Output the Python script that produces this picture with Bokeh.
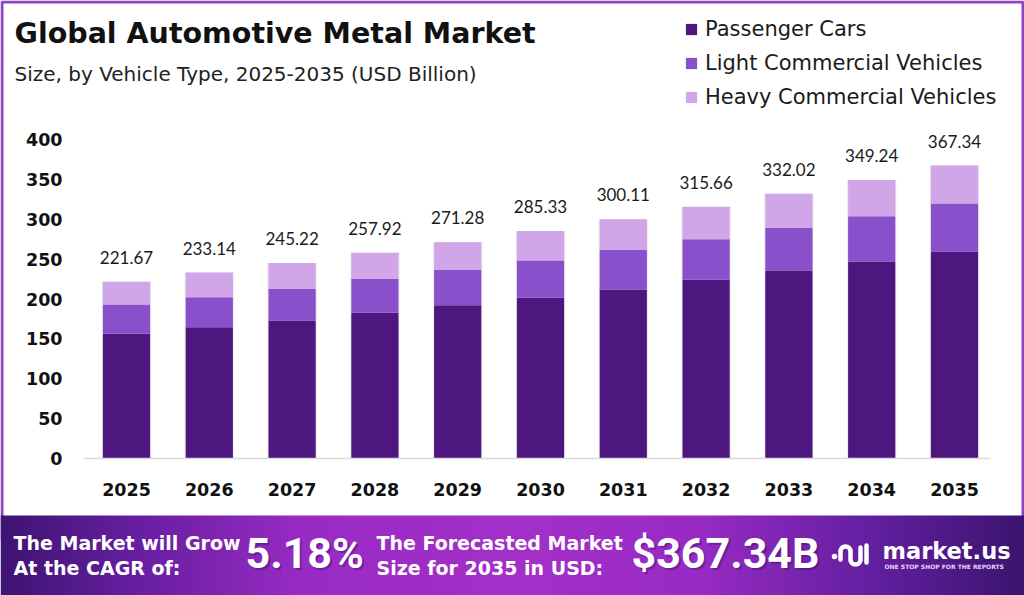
import numpy as np
from bokeh.plotting import figure
from bokeh.models import (ColumnDataSource, Range1d, FixedTicker, Label, LabelSet)
from bokeh.core.properties import value
from bokeh.embed import file_html
from bokeh.resources import INLINE

# ---- data (USD billion) ----
years = ["2025", "2026", "2027", "2028", "2029", "2030", "2031", "2032", "2033", "2034", "2035"]
passenger_cars = [156.40, 164.60, 173.00, 182.70, 192.20, 201.50, 211.90, 224.00, 235.70, 247.00, 259.60]
light_commercial = [36.60, 37.70, 39.80, 42.60, 44.40, 46.80, 49.80, 51.00, 53.60, 56.80, 60.10]
heavy_commercial = [28.67, 30.84, 32.42, 32.62, 34.68, 37.03, 38.41, 40.66, 42.72, 45.44, 47.64]
y_ticks = [0, 50, 100, 150, 200, 250, 300, 350, 400]
series_names = ["Passenger Cars", "Light Commercial Vehicles", "Heavy Commercial Vehicles"]
cagr_text = "5.18%"
forecast_text = "$367.34B"

totals = [round(a + b + c, 2) for a, b, c in zip(passenger_cars, light_commercial, heavy_commercial)]
xi = list(range(len(years)))

COLORS = ["#4d177f", "#8a4fca", "#d0a6e9"]
BORDER = "#8d44c5"
SANS = "DejaVu Sans"
NUM = "Lato"
BIG = "Roboto"

src = ColumnDataSource(dict(
    x=xi, pc=passenger_cars, lcv=light_commercial, hcv=heavy_commercial,
    total=totals, label=[f"{t:.2f}" for t in totals],
))

# ---- canvas geometry (pixels) ----
W, H = 1024, 595
X0, DX = 126.0, 82.8          # centre of first bar, spacing between bars
Y0, SY = 458.0, 319.0 / 400   # pixel row of value 0, pixels per billion

p = figure(width=W, height=H,
           x_range=Range1d(-X0 / DX, (W - X0) / DX),
           y_range=Range1d(-(H - Y0) / SY, Y0 / SY),
           output_backend="svg", toolbar_location=None, title=None, min_border=0)
# pixel space for the decorations (origin bottom-left)
p.extra_x_ranges = {"px": Range1d(0, W)}
p.extra_y_ranges = {"px": Range1d(0, H)}
p.outline_line_color = None
p.grid.visible = False
p.background_fill_color = "white"
p.border_fill_color = "white"


def py(cy):
    """pixel row measured from the top -> pixel-space y"""
    return H - cy


# outer frame line round the chart panel
p.quad(left=1.5, right=W - 1.5, top=py(1.5), bottom=py(540), fill_alpha=0,
       line_color=BORDER, line_width=3, x_range_name="px", y_range_name="px")

# soft shadow behind each bar
for k, a in [(3, 0.04), (2, 0.06), (1, 0.08)]:
    p.vbar(x="x", top="total", bottom=0, width=0.57 + 0.012 * k, source=src,
           fill_color="#666666", fill_alpha=a, line_color=None)

p.vbar_stack(["pc", "lcv", "hcv"], x="x", width=0.57, source=src,
             fill_color=COLORS, line_color=None, legend_label=series_names)

p.add_layout(LabelSet(x="x", y="total", text="label", source=src, y_offset=18,
                      text_align="center", text_baseline="alphabetic",
                      text_font=value(NUM), text_font_size="17px", text_color="#1a1a1a"))

# axes, pinned to the plotting positions
xax = p.xaxis[0]
xax.fixed_location = 0
xax.bounds = ((84 - X0) / DX, (990 - X0) / DX)
xax.ticker = FixedTicker(ticks=xi)
xax.major_label_overrides = {i: y for i, y in zip(xi, years)}
xax.axis_line_color = "#dadada"
xax.axis_line_width = 1.5
xax.major_tick_line_color = None
xax.minor_tick_line_color = None
xax.major_label_text_font = SANS
xax.major_label_text_font_style = "bold"
xax.major_label_text_font_size = "17.5px"
xax.major_label_text_color = "#111111"
xax.major_label_standoff = 18

yax = p.yaxis[0]
yax.fixed_location = (84 - X0) / DX
yax.ticker = FixedTicker(ticks=y_ticks)
yax.axis_line_color = None
yax.major_tick_line_color = None
yax.minor_tick_line_color = None
yax.major_label_text_font = SANS
yax.major_label_text_font_style = "bold"
yax.major_label_text_font_size = "17.5px"
yax.major_label_text_color = "#111111"
yax.major_label_standoff = 16

leg = p.legend[0]
leg.location = (684, 486)
leg.background_fill_alpha = 0
leg.border_line_color = None
leg.glyph_width = 14
leg.glyph_height = 14
leg.spacing = 10
leg.label_text_font = SANS
leg.label_text_font_size = "21px"
leg.label_text_color = "#1a1a1a"
leg.label_standoff = 7


def txt(text, cx, base_cy, size_px, font=SANS, style="normal", color="#111111", **kw):
    # the label box sits on its bottom edge; lift it so the glyph baseline lands on base_cy
    y = py(base_cy - 0.37 * size_px)
    p.add_layout(Label(x=cx, y=y, x_range_name="px", y_range_name="px",
                       text=text, text_font=font, text_font_style=style,
                       text_font_size=f"{size_px}px", text_color=color,
                       text_baseline="alphabetic", **kw))


txt("Global Automotive Metal Market", 14, 44, 28.5, style="bold")
txt("Size, by Vehicle Type, 2025-2035 (USD Billion)", 14, 81, 20, color="#222222")

# ---- footer band ----
FT = 515
stops_x = [0, 140, 300, 520, 700, 860, 1024]
stops_rgb = [(0x3e, 0x14, 0x72), (0x68, 0x1f, 0xa2), (0x99, 0x2b, 0xc4), (0xa3, 0x30, 0xc9),
             (0x98, 0x2b, 0xc4), (0x66, 0x20, 0xa3), (0x3c, 0x14, 0x70)]
xs = np.arange(W)
img = np.empty((1, W), dtype=np.uint32)
view = img.view(dtype=np.uint8).reshape((1, W, 4))
for ch in range(3):
    view[0, :, ch] = np.interp(xs, stops_x, [c[ch] for c in stops_rgb]).astype(np.uint8)
view[0, :, 3] = 255
p.image_rgba(image=[img], x=0, y=0, dw=W, dh=H - FT, x_range_name="px", y_range_name="px")


def big(text, cx, base_cy):
    txt(text, cx + 2, base_cy + 2, 43, font=BIG, style="bold", color="#2a0a4a",
        text_alpha=0.35)
    txt(text, cx, base_cy, 43, font=BIG, style="bold", color="white")


txt("The Market will Grow", 13, 550, 19, style="bold", color="white")
txt("At the CAGR of:", 13, 575, 19, style="bold", color="white")
big(cagr_text, 245, 568)
txt("The Forecasted Market", 376, 550, 19, style="bold", color="white")
txt("Size for 2035 in USD:", 376, 575, 19, style="bold", color="white")
big(forecast_text, 631, 568)
txt("market.us", 882, 559, 22.5, style="bold", color="white")
txt("ONE STOP SHOP FOR THE REPORTS", 884, 568, 6, style="bold", color="#e8d8f5")

# logo mark
lw = 4.5
kw = dict(x_range_name="px", y_range_name="px", color="white")
p.scatter(x=[834], y=[py(556)], size=5.5, line_color=None, fill_color="white",
          x_range_name="px", y_range_name="px")
p.arc(x=[845], y=[py(551)], radius=5, start_angle=0, end_angle=np.pi, line_width=lw, **kw)
p.segment(x0=[840, 850], y0=[py(551), py(551)], x1=[840, 850], y1=[py(559), py(559)],
          line_width=lw, line_cap="round", **kw)
p.arc(x=[855], y=[py(559)], radius=5, start_angle=np.pi, end_angle=2 * np.pi, line_width=lw, **kw)
p.segment(x0=[860, 866], y0=[py(559), py(562)], x1=[860, 866], y1=[py(547), py(545)],
          line_width=lw, line_cap="round", **kw)

open("out.html", "w").write(file_html(p, INLINE))
